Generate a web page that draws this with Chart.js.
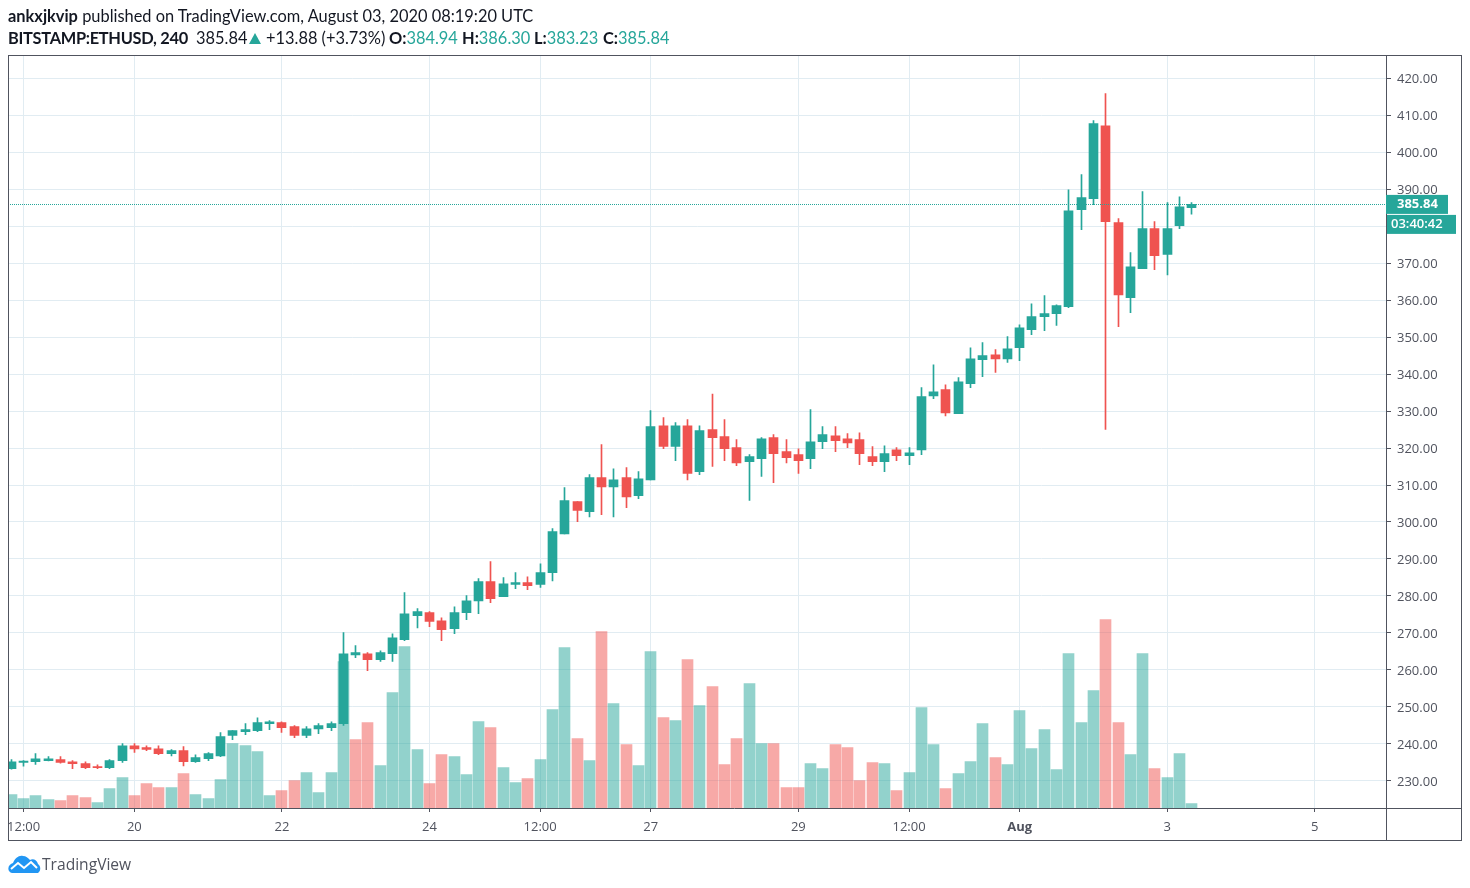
<!DOCTYPE html>
<html>
<head>
<meta charset="utf-8">
<title>BITSTAMP:ETHUSD</title>
<script src="https://cdn.jsdelivr.net/npm/chart.js@4"></script>
<style>
  html, body { margin: 0; padding: 0; background: #fff; }
  #wrap { position: relative; width: 1470px; height: 888px; overflow: hidden; font-family: "Lato", sans-serif; color: #131722; }
  #myChart { position: absolute; left: 0; top: 0; }
  .line { position: absolute; left: 8px; font-size: 16.4px; white-space: nowrap; }
  .line b { font-weight: 700; }
  .line i { font-style: normal; color: #26a69a; }
  .tag { position: absolute; top: 0; }
  #arrow { position: absolute; left: 241px; top: 5px; width: 0; height: 0; border-left: 6.5px solid transparent; border-right: 6.5px solid transparent; border-bottom: 11px solid #26a69a; }
  #logo { position: absolute; left: 8px; top: 855px; }
  #logoText { position: absolute; left: 42px; top: 853px; font-family: "Open Sans", sans-serif; font-size: 15.6px; color: #50535e; }
</style>
</head>
<body>
<div id="wrap">
  <canvas id="myChart" width="1470" height="888"></canvas>
  <div class="line" style="top:6px"><b>ankxjkvip</b> published on TradingView.com, August 03, 2020 08:19:20 UTC</div>
  <div class="line" style="top:28px"><b style="letter-spacing:-0.3px">BITSTAMP:ETHUSD, 240</b>
    <span class="tag" style="left:188px">385.84</span>
    <span id="arrow"></span>
    <span class="tag" style="left:258px">+13.88 (+3.73%)</span>
    <span class="tag" style="left:381px"><b>O:</b><i>384.94</i></span>
    <span class="tag" style="left:454px"><b>H:</b><i>386.30</i></span>
    <span class="tag" style="left:526px"><b>L:</b><i>383.23</i></span>
    <span class="tag" style="left:595px"><b>C:</b><i>385.84</i></span>
  </div>
  <svg id="logo" width="33" height="19" viewBox="0 0 33 19">
    <path d="M1 16 C-1 12 2 9 5 8 C7 3 11 0 15 1 C18 1 20 3 22 5 C25 3 29 5 30 9 C33 11 33 16 30 18 L4 18 C3 18 2 17 1 16 Z" fill="#2196f3"/>
    <path d="M3 14 L10 8 L16 13 L23 7 L29 13" fill="none" stroke="#fff" stroke-width="2"/>
  </svg>
  <div id="logoText">TradingView</div>
</div>
<script>
// 4h candles, one per bar
var opens = [
  233.3, 235.0, 235.2, 235.5, 235.8, 235.2, 234.7, 233.9, 233.6, 235.5,
  239.5, 239.0, 238.7, 237.4, 238.2, 235.2, 236.0, 236.8, 242.3, 243.3,
  243.6, 245.5, 245.8, 244.7, 242.3, 244.1, 244.4, 245.5, 264.1, 264.4,
  262.8, 264.4, 268.2, 274.7, 275.5, 273.3, 271.2, 275.5, 278.7, 283.9,
  279.8, 283.1, 283.6, 283.1, 286.3, 296.8, 305.5, 302.8, 312.0, 309.5,
  312.0, 307.1, 311.4, 326.0, 320.4, 326.0, 313.6, 325.0, 323.1, 320.1,
  316.3, 317.1, 322.8, 319.0, 318.2, 317.1, 321.7, 323.3, 322.5, 322.3,
  317.7, 316.3, 319.5, 317.9, 319.5, 334.1, 335.8, 329.3, 337.4, 343.9,
  345.2, 344.1, 347.1, 352.0, 355.5, 356.3, 358.2, 384.4, 387.4, 407.1,
  380.9, 360.6, 368.5, 379.3, 372.3, 380.1, 384.94
];
var highs = [
  235.8, 235.5, 237.4, 236.6, 236.6, 235.5, 235.2, 234.4, 235.8, 240.1,
  240.1, 239.5, 239.5, 238.5, 239.3, 237.1, 237.7, 243.1, 243.6, 245.5,
  247.1, 246.3, 246.0, 245.0, 244.7, 245.5, 246.0, 270.1, 266.6, 264.7,
  265.2, 269.8, 280.9, 276.6, 275.8, 274.1, 277.1, 280.1, 284.7, 289.3,
  285.0, 286.3, 285.2, 288.7, 298.2, 309.3, 305.5, 312.8, 320.9, 314.4,
  314.7, 313.6, 330.1, 328.2, 326.9, 327.7, 326.0, 334.6, 327.7, 322.3,
  318.2, 322.8, 323.6, 322.3, 319.8, 330.4, 325.8, 325.8, 323.9, 324.1,
  320.4, 320.6, 320.1, 320.1, 336.3, 342.5, 337.1, 339.0, 347.1, 348.5,
  346.6, 350.1, 353.3, 359.0, 361.2, 358.7, 389.8, 393.9, 408.5, 415.8,
  382.0, 372.8, 389.3, 381.2, 386.3, 387.9, 386.30
];
var lows = [
  233.2, 234.0, 234.5, 235.4, 234.8, 233.3, 233.3, 233.3, 233.3, 235.0,
  237.7, 238.2, 237.1, 236.8, 234.1, 235.0, 235.5, 236.6, 241.2, 242.5,
  243.3, 243.9, 243.1, 241.7, 241.7, 242.8, 243.6, 245.0, 263.3, 259.8,
  262.3, 262.3, 267.9, 271.4, 271.7, 267.9, 269.8, 273.6, 275.2, 278.2,
  279.8, 282.0, 281.7, 282.3, 284.1, 296.8, 300.1, 301.4, 302.0, 301.4,
  303.9, 306.3, 311.4, 319.8, 316.6, 311.4, 312.8, 315.0, 316.6, 315.2,
  305.8, 312.3, 310.6, 316.0, 313.1, 314.4, 319.8, 319.0, 320.1, 315.5,
  315.2, 313.6, 316.6, 315.5, 318.2, 333.3, 328.7, 329.3, 336.3, 339.3,
  340.4, 343.1, 343.6, 350.6, 351.7, 353.1, 357.9, 379.0, 385.8, 325.0,
  352.8, 356.6, 368.5, 368.2, 366.8, 379.3, 383.23
];
var closes = [
  235.2, 235.4, 236.0, 236.0, 235.0, 234.7, 233.6, 233.6, 235.5, 239.5,
  238.7, 238.5, 237.4, 238.2, 235.2, 236.3, 237.4, 242.0, 243.6, 243.9,
  245.8, 246.0, 244.4, 242.3, 244.1, 245.0, 245.5, 264.4, 264.7, 262.8,
  264.7, 268.7, 275.2, 275.8, 273.1, 270.9, 275.5, 278.7, 283.9, 279.3,
  283.3, 283.6, 282.8, 286.3, 297.4, 305.8, 303.1, 312.0, 309.5, 311.4,
  306.8, 311.7, 325.8, 320.4, 326.0, 313.1, 324.7, 322.8, 319.8, 316.0,
  317.7, 322.5, 318.5, 317.4, 316.6, 321.7, 323.6, 322.0, 321.4, 318.5,
  316.3, 318.5, 317.9, 318.7, 333.9, 335.2, 329.5, 337.9, 344.1, 345.0,
  344.1, 346.8, 352.5, 355.5, 356.3, 358.5, 384.1, 387.7, 407.7, 381.2,
  361.4, 369.0, 379.3, 372.0, 379.3, 385.2, 385.84
];
// volume, arbitrary units (no scale shown on the picture)
var volumes = [
  40, 28, 37, 25, 22, 37, 31, 16, 58, 91,
  37, 73, 61, 61, 103, 40, 28, 85, 193, 187,
  169, 37, 52, 82, 106, 46, 106, 439, 205, 256,
  127, 346, 484, 175, 73, 160, 154, 100, 259, 241,
  121, 76, 88, 145, 295, 481, 208, 142, 529, 313,
  190, 127, 469, 271, 262, 445, 307, 364, 130, 208,
  373, 193, 193, 61, 61, 133, 118, 190, 181, 82,
  136, 133, 52, 106, 301, 190, 58, 103, 139, 253,
  151, 130, 292, 178, 235, 115, 463, 256, 352, 565,
  256, 160, 463, 118, 91, 163, 13
];
// bars whose volume column is red
var redVolumeBars = [4, 5, 6, 10, 11, 12, 14, 22, 23, 28, 29, 34, 35, 39, 42, 46, 48, 50, 53, 55, 57, 58, 59, 62, 63, 64, 67, 68, 69, 70, 72, 76, 80, 89, 90, 93];
var tickBars = [1, 10, 22, 34, 43, 52, 64, 73, 82, 94, 106];
var tickLabels = ["12:00", "20", "22", "24", "12:00", "27", "29", "12:00", "Aug", "3", "5"];
var lastPrice = 385.84;
var countdown = "03:40:42";

var GREEN = "#26a69a", RED = "#ef5350", GRID = "#e1ecf2", FRAME = "#50535e";

var wicks = [], bodies = [], vols = [];
for (var i = 0; i < opens.length; i++) {
  wicks.push({ x: i, y: [lows[i], highs[i]] });
  bodies.push({ x: i, y: [opens[i], closes[i]] });
  vols.push({ x: i, y: volumes[i] });
}
var candleColors = opens.map(function (o, i) { return closes[i] >= o ? GREEN : RED; });
var volColors = volumes.map(function (v, i) {
  return redVolumeBars.indexOf(i) >= 0 ? "rgba(239,83,80,0.5)" : "rgba(38,166,154,0.5)";
});

// snap bars and the price line to whole pixels so wicks and dots stay sharp
var snapPlugin = {
  id: "snap",
  afterDatasetsUpdate: function (chart) {
    chart.getSortedVisibleDatasetMetas().forEach(function (meta) {
      meta.data.forEach(function (el) {
        if (meta.type === "line") {
          el.x = Math.round(el.x);
          el.y = Math.floor(el.y) + 0.5;
        } else {
          el.x = Math.floor(el.x) + 0.5;
        }
      });
    });
  }
};

// frame lines and the two price tags on the right
var framePlugin = {
  id: "frame",
  afterDraw: function (chart) {
    var c = chart.ctx, a = chart.chartArea;
    c.save();
    c.strokeStyle = FRAME;
    c.lineWidth = 1;
    c.strokeRect(8.5, 55.5, 1453, 785);
    c.beginPath();
    c.moveTo(a.right + 0.5, 56); c.lineTo(a.right + 0.5, 841);
    c.moveTo(8, a.bottom + 0.5); c.lineTo(1461, a.bottom + 0.5);
    c.stroke();

    var py = chart.scales.y.getPixelForValue(lastPrice);
    c.fillStyle = GREEN;
    c.fillRect(a.right, py - 9.5, 62, 19);
    c.fillRect(a.right + 1, py + 10.5, 69, 19);
    c.fillStyle = "#fff";
    c.font = "bold 13px 'Open Sans'";
    c.textBaseline = "middle";
    c.fillText(lastPrice.toFixed(2), a.right + 11, py);
    c.font = "600 13px 'Open Sans'";
    c.fillText(countdown, a.right + 5, py + 20);
    c.restore();
  }
};

var ctx = document.getElementById("myChart").getContext("2d");
var mixedChart = new Chart(ctx, {
  type: "bar",
  data: {
    datasets: [
      { data: vols, yAxisID: "vol", backgroundColor: volColors, barThickness: 11, order: 4, grouped: false },
      { data: wicks, yAxisID: "y", backgroundColor: candleColors, barThickness: 1, order: 3, grouped: false },
      { data: bodies, yAxisID: "y", backgroundColor: candleColors, barThickness: 9, order: 2, grouped: false },
      {
        type: "line", yAxisID: "y", order: 1, pointRadius: 0,
        borderColor: GREEN, borderWidth: 1, borderDash: [1, 1], borderCapStyle: "butt",
        data: [{ x: -0.24, y: lastPrice }, { x: 111.79, y: lastPrice }]
      }
    ]
  },
  plugins: [snapPlugin, framePlugin],
  options: {
    responsive: false,
    animation: false,
    devicePixelRatio: 1,
    layout: { padding: { left: 8, top: 56, right: 9, bottom: 47 } },
    plugins: { legend: { display: false }, tooltip: { enabled: false } },
    scales: {
      x: {
        type: "linear",
        offset: false,
        min: -0.24,
        max: 111.79,
        afterBuildTicks: function (axis) {
          axis.ticks = tickBars.map(function (b) { return { value: b }; });
        },
        afterFit: function (axis) { axis.height = 33; },
        border: { display: false },
        grid: { offset: false, color: GRID, tickColor: FRAME, tickLength: 4 },
        ticks: {
          autoSkip: false,
          maxRotation: 0,
          padding: 7,
          color: FRAME,
          font: function (c) {
            return { family: "'Open Sans'", size: 13, weight: c.index === 8 ? "bold" : "normal" };
          },
          callback: function (v, idx) { return tickLabels[idx]; }
        }
      },
      y: {
        position: "right",
        min: 222.7,
        max: 425.95,
        afterBuildTicks: function (axis) {
          var t = [];
          for (var p = 230; p <= 420; p += 10) t.push({ value: p });
          axis.ticks = t;
        },
        afterFit: function (axis) { axis.width = 75; },
        border: { display: false },
        grid: { color: GRID, tickColor: FRAME, tickLength: 5 },
        ticks: {
          padding: 6,
          labelOffset: 1,
          color: FRAME,
          font: { family: "'Open Sans'", size: 13 },
          callback: function (v) { return v.toFixed(2); }
        }
      },
      vol: { display: false, position: "left", min: 0, max: 2256 }
    }
  }
});
</script>
</body>
</html>
